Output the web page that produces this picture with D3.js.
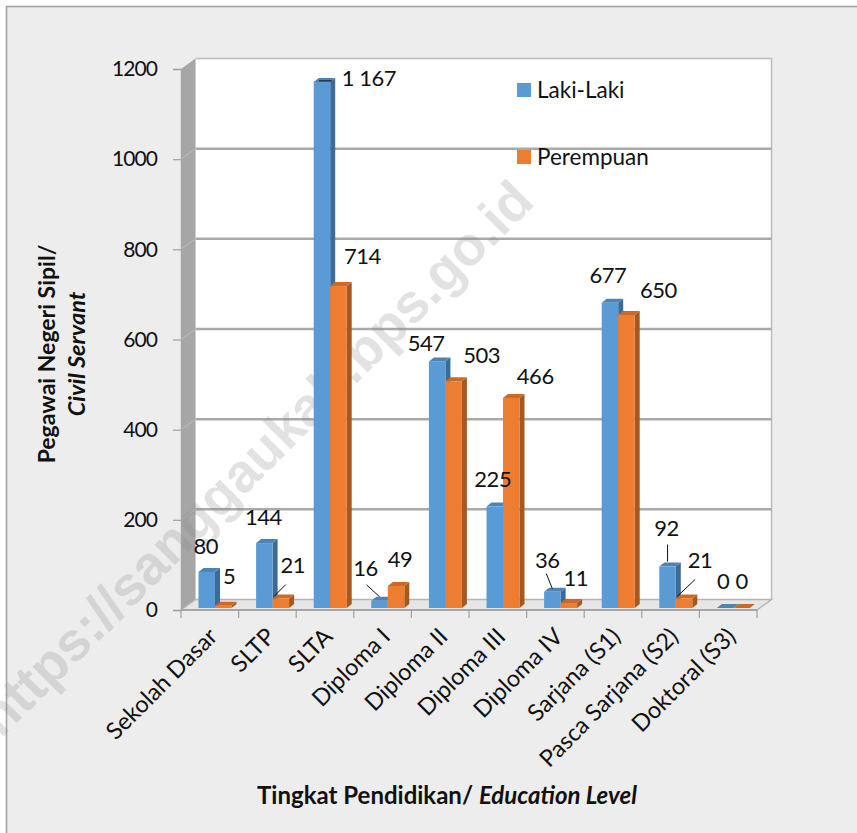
<!DOCTYPE html>
<html><head><meta charset="utf-8">
<script src="https://cdn.jsdelivr.net/npm/d3@7"></script>
<style>html,body{margin:0;padding:0;background:#fff}svg{display:block}text{font-family:Lato,"Noto Sans",sans-serif;fill:#111}</style>
</head><body><svg id="c" width="857" height="833"></svg>
<script>
const categories=["Sekolah Dasar","SLTP","SLTA","Diploma I","Diploma II","Diploma III","Diploma IV","Sarjana (S1)","Pasca Sarjana (S2)","Doktoral (S3)"];
const lakiLaki=[80,144,1167,16,547,225,36,677,92,0];
const perempuan=[5,21,714,49,503,466,11,650,21,0];
const yTicks=[0,200,400,600,800,1000,1200];
const seriesNames=["Laki-Laki","Perempuan"];

const svg=d3.select("#c");
const W=857,H=833;
const x=d3.scaleBand().domain(categories).range([181,757]);
const y=d3.scaleLinear().domain([0,1200]).range([610,69]);
const DX=14.5,DY=10.5, bw=16.5, inset=17.5, base=2, bdx=5, bdy=4;
const colors=[{f:"#5b9bd5",s:"#3c6b96",t:"#4d84b6"},{f:"#ed7d31",s:"#a5591f",t:"#c96a28"}];

// frame
svg.append("rect").attr("x",6).attr("y",6).attr("width",W-6).attr("height",H-6).attr("fill","#ededed");
svg.append("path").attr("d",`M6.5,${H}V6.5H${W}`).attr("fill","none").attr("stroke","#a0a0a0").attr("stroke-width",1.5);

const x0=x.range()[0],x1=x.range()[1],y0=y(0),yT=y(1200);
// back wall
svg.append("rect").attr("x",x0+DX).attr("y",yT-DY).attr("width",x1-x0).attr("height",y0-yT).attr("fill","#fff");
svg.append("path").attr("d",`M${x0+DX},${yT-DY}H${x1+DX}V${y0-DY}`).attr("fill","none").attr("stroke","#bdbdbd").attr("stroke-width",1.5);
// gridlines
svg.append("g").selectAll("line").data(yTicks.filter(d=>d>0&&d<1200)).join("line")
 .attr("x1",x0+DX).attr("x2",x1+DX).attr("y1",d=>y(d)-DY).attr("y2",d=>y(d)-DY)
 .attr("stroke","#a9a9a9").attr("stroke-width",2.5);
// left wall
svg.append("path").attr("d",`M${x0},${yT}L${x0+DX},${yT-DY}V${y0-DY}L${x0},${y0}Z`).attr("fill","#a6a6a6");
svg.append("g").selectAll("line").data(yTicks.slice(1,-1)).join("line")
 .attr("x1",x0).attr("x2",x0+DX).attr("y1",d=>y(d)).attr("y2",d=>y(d)-DY)
 .attr("stroke","#bcbcbc").attr("stroke-width",1);
// floor
svg.append("path").attr("d",`M${x0},${y0}L${x0+DX},${y0-DY}H${x1+DX}L${x1},${y0}Z`).attr("fill","#e6e6e6").attr("stroke","#b5b5b5").attr("stroke-width",1.5);

// watermark, behind the bars and texts
svg.append("text").attr("transform","translate(1,739) rotate(-45)").attr("font-size",54.5).attr("font-weight",700)
 .style("font-family","'Liberation Sans',Arial,sans-serif").style("fill","#8c8c8c").style("fill-opacity",.25).text("https://sanggaukab.bps.go.id");

// axes
const ay=svg.append("g").attr("transform",`translate(${x0},0)`).call(d3.axisLeft(y).tickValues(yTicks).tickSize(8).tickPadding(16).tickFormat(d3.format("d")));
ay.select(".domain").attr("stroke","#a6a6a6").attr("stroke-width",1.5);
ay.selectAll("line").attr("stroke","#a0a0a0").attr("stroke-width",1.2);
ay.selectAll("text").attr("font-size",21).attr("letter-spacing",-0.9).style("font-family","Lato,sans-serif").attr("fill","#111");
svg.append("line").attr("x1",x0).attr("x2",x1).attr("y1",y0).attr("y2",y0).attr("stroke","#a6a6a6").attr("stroke-width",2);
const edges=categories.map(c=>x(c)).concat([x1]);
svg.append("g").selectAll("line").data(edges).join("line").attr("x1",d=>d).attr("x2",d=>d).attr("y1",y0).attr("y2",y0+8).attr("stroke","#a0a0a0").attr("stroke-width",1.2);

// bars
function bar3d(g,bx,v,c){
  const yt=y(v)-base,yb=y0-base,r=bx+bw;
  g.append("path").attr("d",`M${r},${yb}L${r+bdx},${yb-bdy}V${yt-bdy}L${r},${yt}Z`).attr("fill",c.s);
  g.append("path").attr("d",`M${bx},${yt}L${bx+bdx},${yt-bdy}H${r+bdx}L${r},${yt}Z`).attr("fill",c.t);
  g.append("rect").attr("x",bx).attr("y",yt).attr("width",bw).attr("height",Math.max(yb-yt,0)).attr("fill",c.f);
}
const gb=svg.append("g");
categories.forEach((c,i)=>{
  bar3d(gb,x(c)+inset,lakiLaki[i],colors[0]);
  bar3d(gb,x(c)+inset+bw,perempuan[i],colors[1]);
});

// data labels: offset from the top centre of each bar
const fmt=v=>v>=1000?d3.format(",")(v).replace(",", " "):String(v);
const off0=[[-1,-26],[-1,-26],[47,-3],[-14,-32],[-11,-18],[-2,-27],[-5,-31],[-2,-27],[-1,-38],[-2,-27]];
const off1=[[6,-29],[12,-33],[24,-30],[4,-26],[28,-26],[24,-21],[7,-25],[32,-25],[16,-38],[0,-27]];
const gl=svg.append("g").attr("font-size",22).attr("letter-spacing",-0.5).attr("text-anchor","middle");
categories.forEach((c,i)=>{
  const bx0=x(c)+inset+bw/2, bx1=bx0+bw;
  gl.append("text").attr("x",bx0+off0[i][0]).attr("y",y(lakiLaki[i])+off0[i][1]).attr("dominant-baseline","middle").text(fmt(lakiLaki[i]));
  gl.append("text").attr("x",bx1+off1[i][0]).attr("y",y(perempuan[i])+off1[i][1]).attr("dominant-baseline","middle").text(fmt(perempuan[i]));
});
// leader lines, anchored on bar tops
const leaders=[[1,1,-7,-2,5,-14],[3,0,0,-4,-13,-16],[6,0,0,-3,-6,-18],[8,0,0,-5,0,-22],[8,1,-7,-2,11,-19],[2,0,-3,-1,10,-1]];
svg.append("g").selectAll("line").data(leaders).join("line")
 .each(function(d){
   const [i,s,a,b,c2,d2]=d, v=(s?perempuan:lakiLaki)[i];
   const cx=x(categories[i])+inset+bw/2+s*bw, cy=y(v)-base;
   d3.select(this).attr("x1",cx+a).attr("y1",cy+b).attr("x2",cx+c2).attr("y2",cy+d2);
 }).attr("stroke","#111").attr("stroke-width",1);

// category labels
svg.append("g").selectAll("text").data(categories).join("text")
 .attr("transform",d=>`translate(${x(d)+x.bandwidth()/2+9},${y0+28}) rotate(-45)`)
 .attr("text-anchor","end").attr("font-size",23.5).text(d=>d);

// axis titles
svg.append("text").attr("transform","translate(55,354) rotate(-90)").attr("text-anchor","middle").attr("font-size",23).attr("font-weight",700).text("Pegawai Negeri Sipil/");
svg.append("text").attr("transform","translate(85,354) rotate(-90)").attr("text-anchor","middle").attr("font-size",23.5).attr("font-weight",700).attr("font-style","italic").text("Civil Servant");
const tX=svg.append("text").attr("x",447).attr("y",804).attr("text-anchor","middle").attr("font-size",24).attr("font-weight",700);
tX.append("tspan").text("Tingkat Pendidikan/ ");
tX.append("tspan").attr("font-style","italic").text("Education Level");

// legend
const lg=svg.append("g").selectAll("g").data(seriesNames).join("g").attr("transform",(d,i)=>`translate(517,${83+i*67})`);
lg.append("rect").attr("width",14).attr("height",14).attr("fill",(d,i)=>colors[i].f);
lg.append("text").attr("x",20).attr("y",15).attr("font-size",22.5).text(d=>d);
</script></body></html>
